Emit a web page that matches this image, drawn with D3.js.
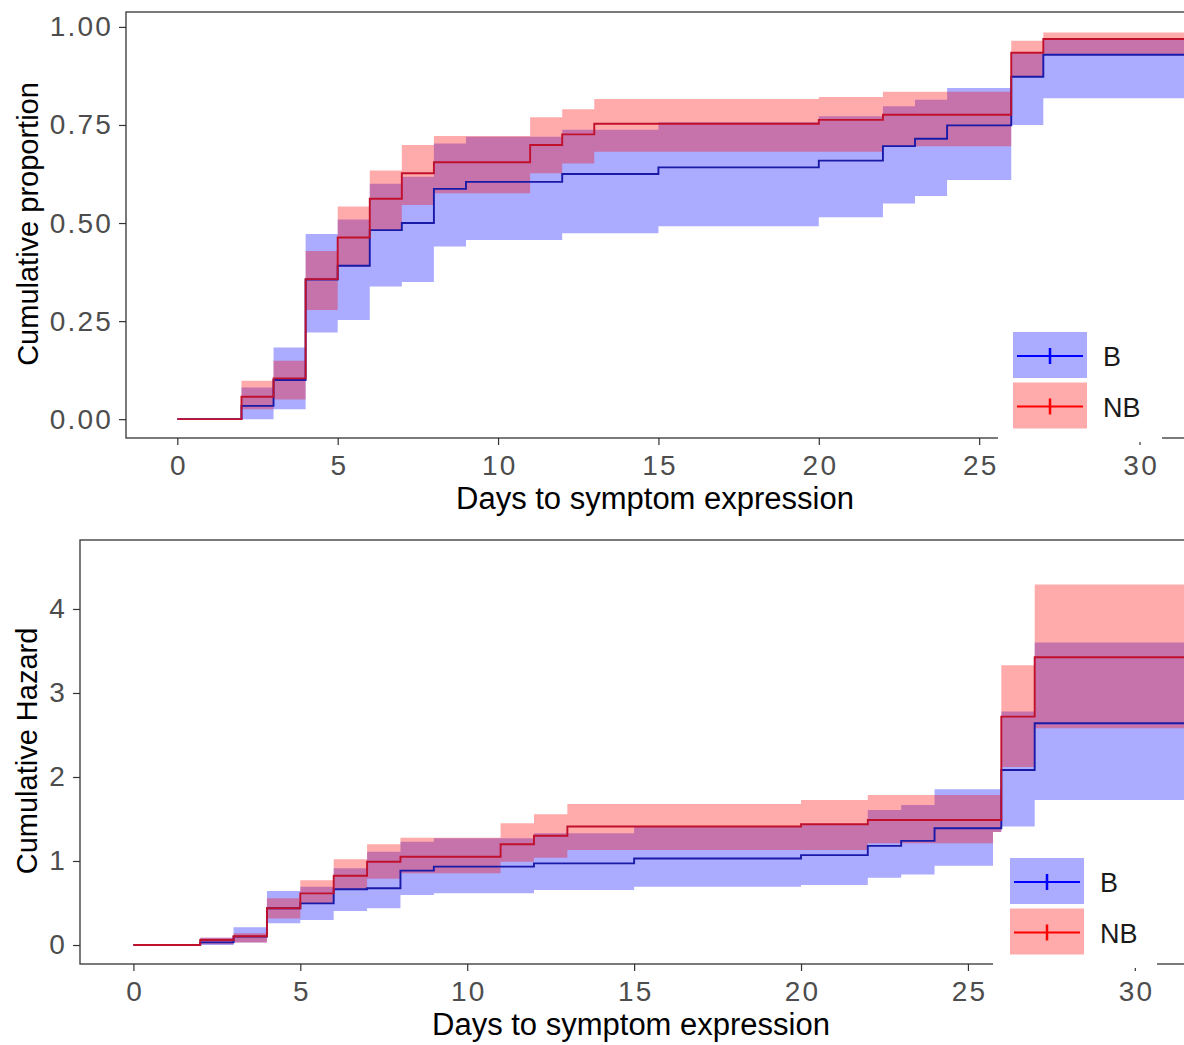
<!DOCTYPE html>
<html>
<head>
<meta charset="utf-8">
<script src="https://cdn.jsdelivr.net/npm/d3@7"></script>
<style>
  body { margin: 0; background: #fff; }
  text { font-family: "Liberation Sans", Arial, sans-serif; }
</style>
</head>
<body>
<svg id="chart" width="1184" height="1045"></svg>
<script>
// ---- data ----
const groups = ["B", "NB"];
const lastDay = 32;

// days where each curve steps
const timesB  = [0, 2, 3, 4, 5, 6, 7, 8, 9, 12, 15, 20, 22, 23, 24, 26, 27];
const timesNB = [0, 2, 3, 4, 5, 6, 7, 8, 11, 12, 13, 20, 22, 26, 27];

// cumulative proportion (top)
const propB    = [0, 0.034, 0.100, 0.356, 0.391, 0.482, 0.500, 0.587, 0.605, 0.625, 0.642, 0.659, 0.696, 0.715, 0.749, 0.873, 0.929];
const propBlo  = [0, 0.000, 0.025, 0.221, 0.253, 0.338, 0.350, 0.440, 0.457, 0.474, 0.492, 0.515, 0.550, 0.569, 0.610, 0.750, 0.818];
const propBhi  = [0, 0.081, 0.183, 0.472, 0.509, 0.600, 0.618, 0.703, 0.720, 0.738, 0.757, 0.772, 0.798, 0.814, 0.844, 0.933, 0.967];
const propNB   = [0, 0.057, 0.104, 0.357, 0.463, 0.562, 0.627, 0.655, 0.699, 0.726, 0.753, 0.763, 0.776, 0.934, 0.969];
const propNBlo = [0, 0.025, 0.050, 0.278, 0.389, 0.480, 0.546, 0.576, 0.627, 0.652, 0.682, 0.682, 0.696, 0.873, 0.929];
const propNBhi = [0, 0.098, 0.149, 0.429, 0.542, 0.634, 0.699, 0.722, 0.770, 0.790, 0.816, 0.821, 0.835, 0.965, 0.986];

// cumulative hazard (bottom)
const hazB    = [0, 0.032, 0.100, 0.437, 0.496, 0.663, 0.675, 0.885, 0.933, 0.972, 1.030, 1.070, 1.180, 1.240, 1.390, 2.083, 2.639];
const hazBlo  = [0, 0.000, 0.030, 0.258, 0.298, 0.405, 0.437, 0.595, 0.615, 0.655, 0.694, 0.714, 0.800, 0.840, 0.944, 1.410, 1.726];
const hazBhi  = [0, 0.087, 0.210, 0.643, 0.694, 0.913, 1.110, 1.230, 1.270, 1.330, 1.410, 1.430, 1.607, 1.667, 1.853, 2.780, 3.600];
const hazNB   = [0, 0.060, 0.105, 0.437, 0.615, 0.825, 0.992, 1.050, 1.200, 1.300, 1.410, 1.437, 1.488, 2.718, 3.425];
const hazNBlo = [0, 0.010, 0.030, 0.317, 0.496, 0.663, 0.790, 0.853, 0.990, 1.040, 1.130, 1.130, 1.210, 2.120, 2.580];
const hazNBhi = [0, 0.087, 0.140, 0.556, 0.770, 1.020, 1.200, 1.278, 1.450, 1.556, 1.680, 1.726, 1.786, 3.330, 4.290];

const xTicks = [0, 5, 10, 15, 20, 25, 30];
const propTicks = [0, 0.25, 0.5, 0.75, 1];
const hazTicks = [0, 1, 2, 3, 4];

// ---- styling ----
const lineCol = { B: "#1a1aa8", NB: "#c0102c" };
const keyLine = { B: "#0000ff", NB: "#ff0000" };
const bandCol = { B: "#0000ff", NB: "#ff0000" };
const bandAlpha = 0.33;

const svg = d3.select("#chart");

function makeSteps(times, est, lo, hi) {
  let pts = times.map((t, i) => ({ t: t, est: est[i], lo: lo[i], hi: hi[i] }));
  let last = pts[pts.length - 1];
  pts.push({ t: lastDay, est: last.est, lo: last.lo, hi: last.hi });
  return pts;
}

function drawPanel(p) {
  let g = svg.append("g");

  let x = d3.scaleLinear().domain([-1.6, 33.6]).range([p.left, 1255]);
  let y = d3.scaleLinear().domain(p.yDomain).range([p.bottom, p.top]);

  let series = {
    B: makeSteps(timesB, p.B[0], p.B[1], p.B[2]),
    NB: makeSteps(timesNB, p.NB[0], p.NB[1], p.NB[2])
  };

  let area = d3.area().curve(d3.curveStepAfter)
    .x(d => x(d.t)).y0(d => y(d.lo)).y1(d => y(d.hi));
  let line = d3.line().curve(d3.curveStepAfter)
    .x(d => x(d.t)).y(d => y(d.est));

  // blue ribbon first, red over it
  groups.forEach(k => {
    g.append("path").datum(series[k]).attr("d", area)
      .attr("fill", bandCol[k]).attr("fill-opacity", bandAlpha);
  });
  groups.forEach(k => {
    g.append("path").datum(series[k]).attr("d", line)
      .attr("fill", "none").attr("stroke", lineCol[k]).attr("stroke-width", 1.9);
  });

  // axes
  let xAxis = g.append("g").attr("transform", `translate(0,${p.bottom})`)
    .call(d3.axisBottom(x).tickValues(xTicks).tickSize(7).tickPadding(10));
  let yAxis = g.append("g").attr("transform", `translate(${p.left},0)`)
    .call(d3.axisLeft(y).tickValues(p.yTicks).tickFormat(p.fmt).tickSize(7).tickPadding(6));

  [xAxis, yAxis].forEach(a => {
    a.select(".domain").remove();
    a.selectAll(".tick line").attr("stroke", "#333").attr("stroke-width", 1.2);
    a.selectAll(".tick text").attr("fill", "#4d4d4d")
      .style("font-size", "28px").style("letter-spacing", "2.2px");
  });
  xAxis.selectAll(".tick text").attr("dx", "1.1px");

  // panel border
  g.append("rect")
    .attr("x", p.left).attr("y", p.top)
    .attr("width", 1255 - p.left).attr("height", p.bottom - p.top)
    .attr("fill", "none").attr("stroke", "#333").attr("stroke-width", 1.3);

  // titles
  g.append("text")
    .attr("x", p.xTitleX).attr("y", p.xTitleY)
    .attr("text-anchor", "middle").style("font-size", "31px")
    .text("Days to symptom expression");

  g.append("text")
    .attr("transform", `translate(${p.yTitleX},${p.yTitleY}) rotate(-90)`)
    .attr("text-anchor", "middle").style("font-size", "29px")
    .text(p.yTitle);

  // legend
  let lg = g.append("g");
  lg.append("rect")
    .attr("x", p.leg.x0).attr("y", p.leg.y0)
    .attr("width", p.leg.x1 - p.leg.x0).attr("height", p.leg.y1 - p.leg.y0)
    .attr("fill", "#fff");

  groups.forEach((k, i) => {
    let ky = p.leg.keyY + i * 50.5;
    lg.append("rect")
      .attr("x", p.leg.keyX).attr("y", ky)
      .attr("width", 74).attr("height", 46)
      .attr("fill", bandCol[k]).attr("fill-opacity", bandAlpha);
    lg.append("line")
      .attr("x1", p.leg.keyX + 4).attr("x2", p.leg.keyX + 70)
      .attr("y1", ky + 24).attr("y2", ky + 24)
      .attr("stroke", keyLine[k]).attr("stroke-width", 1.8);
    lg.append("line")
      .attr("x1", p.leg.keyX + 37).attr("x2", p.leg.keyX + 37)
      .attr("y1", ky + 16).attr("y2", ky + 32)
      .attr("stroke", keyLine[k]).attr("stroke-width", 2.5);
    lg.append("text")
      .attr("x", p.leg.keyX + 90).attr("y", ky + 34)
      .attr("fill", "#1a1a1a").style("font-size", "27px")
      .text(k);
  });
}

drawPanel({
  left: 126, top: 12, bottom: 438,
  yDomain: [-0.048, 1.038],
  yTicks: propTicks, fmt: d3.format(".2f"),
  B: [propB, propBlo, propBhi],
  NB: [propNB, propNBlo, propNBhi],
  yTitle: "Cumulative proportion", yTitleX: 38, yTitleY: 224,
  xTitleX: 655, xTitleY: 509,
  leg: { x0: 998, x1: 1162, y0: 306, y1: 442, keyX: 1013, keyY: 332 }
});

drawPanel({
  left: 80, top: 540, bottom: 964,
  yDomain: [-0.226, 4.821],
  yTicks: hazTicks, fmt: d3.format("d"),
  B: [hazB, hazBlo, hazBhi],
  NB: [hazNB, hazNBlo, hazNBhi],
  yTitle: "Cumulative Hazard", yTitleX: 37, yTitleY: 751,
  xTitleX: 631, xTitleY: 1035,
  leg: { x0: 993, x1: 1157, y0: 832, y1: 968, keyX: 1010, keyY: 858 }
});
</script>
</body>
</html>
